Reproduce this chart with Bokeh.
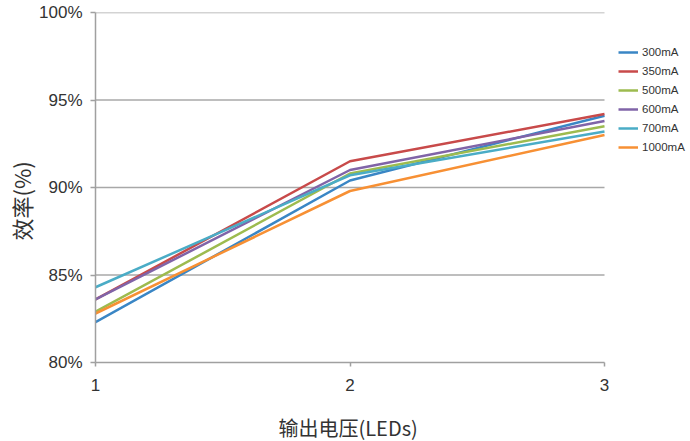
from bokeh.plotting import figure
from bokeh.models import Range1d, FixedTicker, PrintfTickFormatter, Legend, LegendItem, Title
from bokeh.embed import file_html
from bokeh.resources import INLINE

x_leds = [1, 2, 3]
series_names = ["300mA", "350mA", "500mA", "600mA", "700mA", "1000mA"]
eff_300 = [82.3, 90.4, 94.1]
eff_350 = [83.6, 91.5, 94.2]
eff_500 = [82.9, 90.8, 93.5]
eff_600 = [83.6, 91.0, 93.8]
eff_700 = [84.3, 90.7, 93.2]
eff_1000 = [82.8, 89.8, 93.0]
y_ticks = [80, 85, 90, 95, 100]
x_ticks = [1, 2, 3]
colors = ["#3a86c5", "#c84a4a", "#9dbb4f", "#8064a8", "#4aacc6", "#f79034"]

# plot frame spans to the right edge so the legend can sit beside the data area
FRAME_L, FRAME_R_DATA, FIG_W = 95, 604, 690
x_end = x_ticks[-1] + (x_ticks[-1] - x_ticks[0]) * (FIG_W - FRAME_R_DATA) / (FRAME_R_DATA - FRAME_L)

p = figure(width=FIG_W, height=441, output_backend="svg", toolbar_location=None,
           x_range=Range1d(x_ticks[0], x_end), y_range=Range1d(y_ticks[0], y_ticks[-1]),
           min_border_left=FRAME_L, min_border_right=0, min_border_top=12, min_border_bottom=79)
p.outline_line_color = None
p.background_fill_color = "white"

p.xaxis.ticker = FixedTicker(ticks=x_ticks)
p.xaxis.bounds = (x_ticks[0], x_ticks[-1])
p.yaxis.ticker = FixedTicker(ticks=y_ticks)
p.yaxis.formatter = PrintfTickFormatter(format="%d%%")
for ax in (p.xaxis, p.yaxis):
    ax.axis_line_color = "#a0a0a0"
    ax.axis_line_width = 1.5
    ax.major_tick_line_color = "#a0a0a0"
    ax.major_tick_line_width = 1.5
    ax.minor_tick_line_color = None
    ax.major_label_text_font = "Liberation Sans"
    ax.major_label_text_font_size = "17px"
    ax.major_label_text_color = "#333333"
p.yaxis.major_tick_out = 5
p.yaxis.major_tick_in = 0
p.yaxis.major_label_standoff = 8
p.xaxis.major_tick_out = 4
p.xaxis.major_tick_in = 0
p.xaxis.major_label_standoff = 12
# small spacer between x tick labels and the x title
p.xaxis.axis_label = " "
p.xaxis.axis_label_text_font_size = "1px"
p.xaxis.axis_label_standoff = 13
p.xgrid.grid_line_color = None
p.ygrid.grid_line_color = None

# y title, placed along the data area
p.add_layout(Title(text="效率(%)", align="left", offset=122, standoff=0,
                   text_font="Noto Sans CJK SC", text_font_style="normal",
                   text_font_size="22px", text_color="#333333"), "left")
# x title, placed under the data area (not the whole frame)
p.add_layout(Title(text="输出电压(LEDs)", align="left", offset=183, standoff=0,
                   text_font="Noto Sans CJK SC", text_font_style="normal",
                   text_font_size="20px", text_color="#333333"), "below")

# horizontal gridlines over the data area only
grid_y = y_ticks[1:]
p.segment(x0=[x_ticks[0]] * len(grid_y), x1=[x_ticks[-1]] * len(grid_y), y0=grid_y, y1=grid_y,
          line_color="#a8a8a8", line_width=1.5)

all_vals = [eff_300, eff_350, eff_500, eff_600, eff_700, eff_1000]
items = []
for name, vals, c in zip(series_names, all_vals, colors):
    r = p.line(x_leds, vals, line_color=c, line_width=2.5)
    items.append(LegendItem(label=name, renderers=[r]))

legend = Legend(items=items, location=(523, 207), padding=0, margin=0, spacing=3,
                glyph_width=20, glyph_height=16, label_height=16, label_standoff=4,
                border_line_color=None, background_fill_alpha=0,
                label_text_font="Liberation Sans", label_text_font_size="11.5px",
                label_text_color="#333333")
p.add_layout(legend)

open("out.html", "w").write(file_html(p, INLINE))
